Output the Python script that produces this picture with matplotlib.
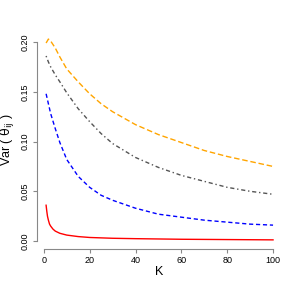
import numpy as np
import matplotlib
matplotlib.use("Agg")
import matplotlib.pyplot as plt

plt.rcParams['font.family'] = ['Liberation Sans', 'DejaVu Sans']

# values
k_orange = [1, 2, 3, 5, 7, 10, 15, 20, 25, 30, 40, 50, 60, 70, 80, 90, 100]
v_orange = [0.199, 0.203, 0.201, 0.194, 0.185, 0.173, 0.160, 0.148, 0.138, 0.130,
            0.117, 0.107, 0.099, 0.091, 0.085, 0.080, 0.075]

k_grey = [1, 2, 3, 5, 7, 10, 15, 20, 25, 30, 40, 50, 60, 70, 80, 90, 100]
v_grey = [0.186, 0.180, 0.175, 0.167, 0.160, 0.149, 0.133, 0.120, 0.108, 0.098,
          0.084, 0.074, 0.066, 0.060, 0.054, 0.050, 0.047]

k_blue = [1, 2, 3, 5, 7, 10, 15, 20, 25, 30, 40, 50, 60, 70, 80, 90, 100]
v_blue = [0.148, 0.138, 0.128, 0.113, 0.099, 0.082, 0.065, 0.054, 0.046, 0.041,
          0.033, 0.027, 0.024, 0.021, 0.019, 0.017, 0.016]

k_red = [1, 1.3, 1.6, 2, 2.5, 3, 4, 5, 7, 10, 15, 20, 30, 40, 60, 80, 100]
v_red = [0.036, 0.030, 0.025, 0.021, 0.017, 0.015, 0.012, 0.010, 0.0078, 0.006,
         0.0045, 0.0036, 0.0028, 0.0024, 0.0018, 0.0015, 0.0012]

x_ticks = [0, 20, 40, 60, 80, 100]
y_ticks = [0.00, 0.05, 0.10, 0.15, 0.20]

fig = plt.figure(figsize=(2.87, 2.87), dpi=100)
ax = fig.add_axes([0.129, 0.132, 0.854, 0.760])

ax.plot(k_orange, v_orange, color="orange", lw=1, ls=(0, (4, 2)))
ax.plot(k_grey, v_grey, color="#555555", lw=1, ls=(0, (1, 2, 3, 2)))
ax.plot(k_blue, v_blue, color="blue", lw=1, ls=(0, (3, 2)))
ax.plot(k_red, v_red, color="red", lw=1, ls="-")

ax.set_xlim(-2.96, 103.96)
ax.set_ylim(-0.0081, 0.2111)

for side in ["top", "right"]:
    ax.spines[side].set_visible(False)
ax.spines["left"].set_bounds(0, 0.20)
ax.spines["bottom"].set_bounds(0, 100)
ax.spines["left"].set_color("#888888")
ax.spines["bottom"].set_color("#888888")

ax.set_xticks(x_ticks)
ax.set_yticks(y_ticks)
ax.set_yticklabels(["0.00", "0.05", "0.10", "0.15", "0.20"], rotation=90, va="center")
ax.tick_params(colors="#888888", labelcolor="black", labelsize=6.5, length=3, width=0.8, pad=2)

ax.set_xlabel("K", fontsize=9, va="center")
ax.set_ylabel(r"Var ( $\mathrm{\theta}_{\mathrm{ij}}$ )", fontsize=9, va="center")
ax.xaxis.set_label_coords(0.5, -0.105)
ax.yaxis.set_label_coords(-0.12, 0.5)

fig.savefig("out.png", dpi=100)
